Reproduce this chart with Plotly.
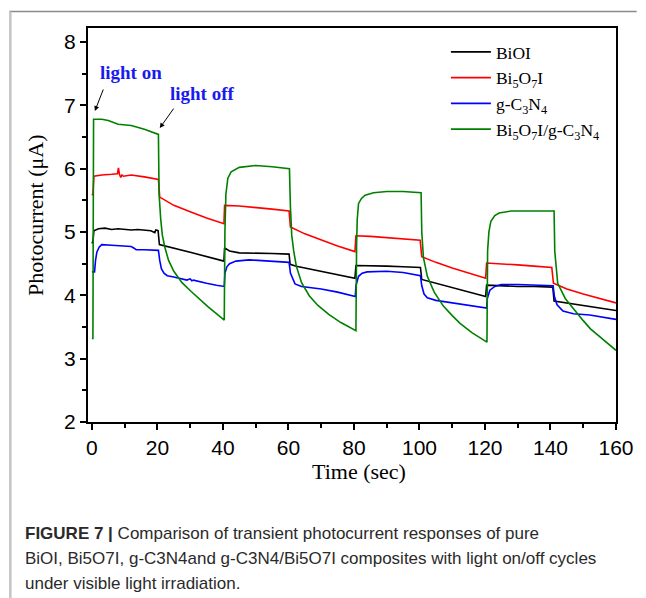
import plotly.graph_objects as go

# ---------------- data ----------------
t_bioi = [0, 0.3, 0.6, 2, 4, 6, 8, 10, 12, 14, 16, 18, 19.2, 19.5, 20.2, 20.6, 30, 40.3,
          40.5, 42, 45, 50, 55, 60.2, 60.5, 62.4, 70, 80.3, 80.6, 85, 90, 95, 100.3,
          100.7, 110, 120.2, 120.5, 125, 130, 135, 140.7, 141.1, 150, 160]
bioi = [4.82, 4.85, 5.02, 5.05, 5.06, 5.04, 5.05, 5.04, 5.03, 5.04, 5.03, 5.02, 4.99, 5.03,
        5.02, 4.80, 4.68, 4.54, 4.75, 4.70, 4.67, 4.67, 4.66, 4.65, 4.49, 4.46, 4.38,
        4.27, 4.47, 4.47, 4.46, 4.45, 4.44, 4.25, 4.12, 3.98, 4.16, 4.15, 4.14, 4.14,
        4.13, 3.91, 3.84, 3.76]

t_bi5o7i = [0, 0.3, 0.6, 3, 6, 7.8, 8.1, 8.4, 8.8, 9.2, 9.6, 12, 16, 19.9, 20.3, 20.7, 25,
            30, 35, 40.3, 40.5, 45, 50, 55, 60.2, 60.6, 65, 70, 75, 80.3, 80.6, 85, 90,
            95, 100.2, 100.7, 105, 110, 115, 120.2, 120.5, 125, 130, 135, 140.4, 140.9,
            145, 150, 155, 160]
bi5o7i = [5.58, 5.60, 5.88, 5.90, 5.91, 5.92, 6.01, 5.91, 5.86, 5.90, 5.88, 5.90, 5.87,
          5.84, 5.83, 5.55, 5.42, 5.32, 5.22, 5.13, 5.42, 5.41, 5.39, 5.36, 5.33, 5.08,
          4.97, 4.87, 4.78, 4.69, 4.94, 4.93, 4.91, 4.89, 4.87, 4.61, 4.52, 4.43, 4.35,
          4.27, 4.51, 4.50, 4.48, 4.46, 4.44, 4.19, 4.10, 4.02, 3.95, 3.88]

t_gc3n4 = [0, 0.8, 1.1, 1.5, 2.2, 3, 6, 9, 12, 13, 13.5, 16, 20.3, 20.7, 21.2, 22, 23, 25,
           27, 29, 30, 30.5, 31, 33, 35, 38, 40.4, 40.6, 41.2, 42, 44, 48, 52, 56, 60.2,
           60.6, 61.2, 62, 64, 70, 75, 80.4, 80.6, 81.4, 82.5, 84, 90, 95, 100.3, 100.7,
           101.4, 102.4, 105, 110, 115, 120.5, 120.7, 121.5, 123, 125, 130, 135, 140.8,
           141.2, 142, 143.8, 147, 152, 156, 160]
gc3n4 = [4.37, 4.37, 4.55, 4.68, 4.76, 4.80, 4.79, 4.78, 4.77, 4.74, 4.72, 4.72, 4.71,
         4.55, 4.42, 4.35, 4.31, 4.29, 4.27, 4.24, 4.26, 4.23, 4.24, 4.21, 4.19, 4.16,
         4.14, 4.35, 4.45, 4.50, 4.54, 4.56, 4.55, 4.54, 4.52, 4.35, 4.28, 4.18, 4.14,
         4.10, 4.05, 3.98, 4.15, 4.30, 4.35, 4.37, 4.38, 4.36, 4.31, 4.15, 4.02, 3.96,
         3.92, 3.88, 3.84, 3.80, 3.95, 4.08, 4.14, 4.17, 4.17, 4.16, 4.15, 3.98, 3.85,
         3.75, 3.71, 3.69, 3.66, 3.62]

t_comp = [0, 0.3, 0.5, 3, 5, 7, 8, 12, 16, 20.3, 20.5, 21.0, 21.5, 22.3, 23.4, 25, 27.5,
          30.3, 33, 35.4, 38, 40.4, 40.6, 40.9, 41.5, 42.5, 45, 50, 55, 60.3, 60.6, 61.0,
          61.6, 62.4, 64, 66.4, 69, 72.3, 76, 80.6, 80.8, 81.0, 81.4, 82.3, 83.4, 86, 90,
          95, 100.5, 100.7, 101.2, 102.4, 104.5, 107.3, 110, 112.3, 116, 120.6, 120.8,
          121.2, 121.8, 123, 124.3, 128, 135, 141.1, 141.3, 141.7, 142.2, 144.5, 147.2,
          150, 152.2, 156, 160]
comp = [3.32, 3.32, 6.78, 6.78, 6.76, 6.72, 6.70, 6.68, 6.62, 6.54, 5.60, 5.20, 4.95,
        4.75, 4.55, 4.38, 4.20, 4.06, 3.93, 3.82, 3.71, 3.61, 5.00, 5.60, 5.85, 5.95,
        6.02, 6.05, 6.03, 6.00, 5.40, 4.95, 4.70, 4.46, 4.20, 3.99, 3.84, 3.70, 3.57,
        3.44, 4.80, 5.20, 5.45, 5.53, 5.58, 5.62, 5.64, 5.64, 5.62, 5.00, 4.60, 4.30,
        4.05, 3.83, 3.68, 3.56, 3.41, 3.26, 4.70, 5.00, 5.17, 5.26, 5.30, 5.33, 5.33,
        5.33, 4.70, 4.40, 4.19, 3.95, 3.77, 3.60, 3.47, 3.30, 3.13]

names = ["BiOI", "Bi<sub>5</sub>O<sub>7</sub>I", "g-C<sub>3</sub>N<sub>4</sub>",
         "Bi<sub>5</sub>O<sub>7</sub>I/g-C<sub>3</sub>N<sub>4</sub>"]
x_ticks = [0, 20, 40, 60, 80, 100, 120, 140, 160]
y_ticks = [2, 3, 4, 5, 6, 7, 8]
caption_lines = [
    "<b>FIGURE 7 |</b> Comparison of transient photocurrent responses of pure",
    "BiOI, Bi5O7I, g-C3N4and g-C3N4/Bi5O7I composites with light on/off cycles",
    "under visible light irradiation.",
]

series = [(t_bioi, bioi, "#000000"), (t_bi5o7i, bi5o7i, "#ff0000"),
          (t_gc3n4, gc3n4, "#0000ff"), (t_comp, comp, "#008000")]

# ---------------- figure ----------------
fig = go.Figure()
for (tx, vy, col), nm in zip(series, names):
    fig.add_trace(go.Scatter(x=tx, y=vy, mode="lines", name=nm,
                             line=dict(color=col, width=1.6)))

W, H = 646, 598
L, R, T, B = 88, 625, 28, 422
pw, ph = R - L, B - T


def px(xp):
    return (xp - L) / pw


def py(yp):
    return (B - yp) / ph


axis_common = dict(showline=True, linecolor="black", linewidth=2, mirror=True,
                   ticks="outside", ticklen=6, tickwidth=1.5, tickcolor="black",
                   showgrid=False, zeroline=False,
                   tickfont=dict(family="Liberation Sans, Arial", size=21, color="black"))

fig.update_xaxes(range=[-1.2, 160], tickvals=x_ticks, **axis_common,
                 minor=dict(dtick=10, ticklen=4, tickwidth=1.5, tickcolor="black",
                            ticks="outside"))
fig.update_yaxes(range=[2, 8.22], tickvals=y_ticks, **axis_common,
                 minor=dict(dtick=0.5, ticklen=4, tickwidth=1.5, tickcolor="black",
                            ticks="outside"))

serif = "Liberation Serif, Times New Roman, serif"
annotations = [
    dict(text="Time (sec)", xref="paper", yref="paper", x=px(364), y=py(471),
         showarrow=False, font=dict(family=serif, size=22, color="black"),
         xanchor="center", yanchor="middle"),
    dict(text="Photocurrent (\u03bcA)", xref="paper", yref="paper", x=px(34), y=py(215),
         showarrow=False, textangle=-90, font=dict(family=serif, size=22, color="black"),
         xanchor="center", yanchor="middle"),
    dict(text="<b>light on</b>", xref="paper", yref="paper", x=px(132), y=py(72),
         showarrow=False, font=dict(family=serif, size=19, color="#1a1af0"),
         xanchor="center", yanchor="middle"),
    dict(text="<b>light off</b>", xref="paper", yref="paper", x=px(204), y=py(93),
         showarrow=False, font=dict(family=serif, size=19, color="#1a1af0"),
         xanchor="center", yanchor="middle"),
    dict(text="", x=0.9, y=6.91, xref="x", yref="y", ax=9, ay=-23, showarrow=True,
         arrowhead=2, arrowsize=1, arrowwidth=1, arrowcolor="black"),
    dict(text="", x=20.7, y=6.64, xref="x", yref="y", ax=15, ay=-21, showarrow=True,
         arrowhead=2, arrowsize=1, arrowwidth=1, arrowcolor="black"),
]
cap_font = dict(family="Liberation Sans, Arial", size=17, color="#2a2a2a")
for line, yc in zip(caption_lines, [533, 558, 583]):
    annotations.append(dict(text=line, xref="paper", yref="paper", x=px(22), y=py(yc),
                            xanchor="left", yanchor="middle", align="left",
                            showarrow=False, font=cap_font))

shapes = [
    dict(type="line", xref="paper", yref="paper", x0=px(8), x1=px(646), y0=py(11.5),
         y1=py(11.5), line=dict(color="#8a8a8a", width=1.5)),
    dict(type="line", xref="paper", yref="paper", x0=px(9), x1=px(9), y0=py(11.5),
         y1=py(598), line=dict(color="#c4c4c4", width=2.5)),
]

fig.update_layout(
    width=W, height=H, autosize=False,
    margin=dict(l=L, r=W - R, t=T, b=H - B, pad=0),
    paper_bgcolor="white", plot_bgcolor="white",
    showlegend=True,
    legend=dict(x=px(452), y=py(34), xanchor="left", yanchor="top",
                bgcolor="rgba(0,0,0,0)", borderwidth=0,
                font=dict(family=serif, size=17.5, color="black"),
                itemwidth=40, tracegroupgap=0),
    annotations=annotations, shapes=shapes,
)

fig.write_html("out.html",
               config={"displayModeBar": False, "responsive": False},
               default_width="646px", default_height="598px",
               post_script="document.body.style.margin='0';"
                           "document.body.style.padding='0';"
                           "document.body.style.overflow='hidden';"
                           "document.documentElement.style.overflow='hidden';")
